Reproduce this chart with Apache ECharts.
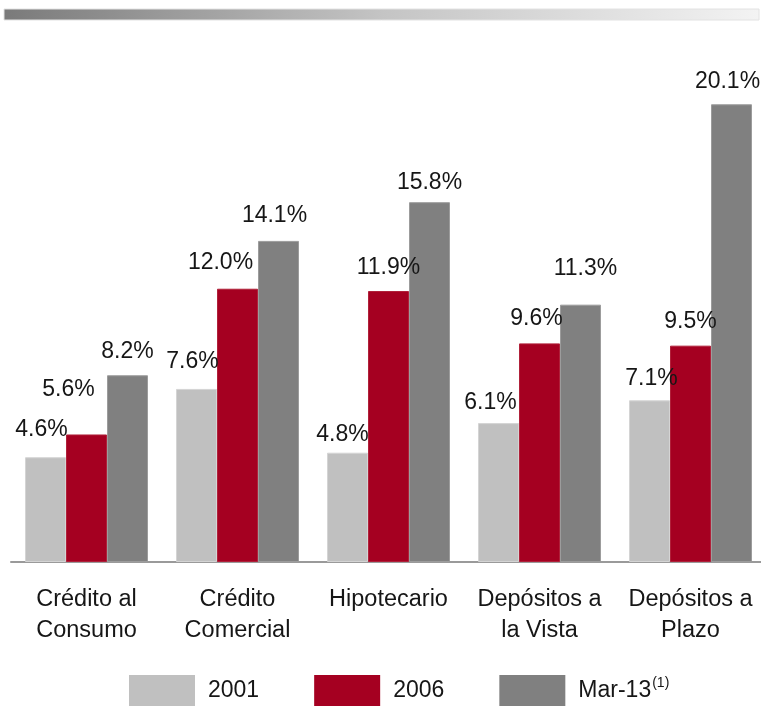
<!DOCTYPE html>
<html>
<head>
<meta charset="utf-8">
<script src="https://cdn.jsdelivr.net/npm/echarts@6/dist/echarts.min.js"></script>
<style>
  html, body { margin: 0; padding: 0; background: #ffffff; }
  #chart { width: 761px; height: 707px; }
</style>
</head>
<body>
<div id="chart"></div>
<script>
// Categories (two-line labels under the axis)
const categories = ['Crédito al\nConsumo', 'Crédito\nComercial', 'Hipotecario', 'Depósitos a\nla Vista', 'Depósitos a\nPlazo'];

// Series names and values (%)
const seriesNames = ['2001', '2006', 'Mar-13'];
const values2001 = [4.6, 7.6, 4.8, 6.1, 7.1];
const values2006 = [5.6, 12.0, 11.9, 9.6, 9.5];
const valuesMar13 = [8.2, 14.1, 15.8, 11.3, 20.1];

const seriesValues = [values2001, values2006, valuesMar13];
const seriesColors = ['#c0c0c0', '#a50021', '#808080'];
const seriesBorders = ['#d4d4d4', '#b0213a', '#9c9c9c'];

// Small label nudges [dx, dy] so the value labels sit as in the layout
const labelNudge = [
  [[-4, -4], [-4, -4], [-5, 5], [-8, 3], [2, 2]],
  [[-18, -21], [-17, -3], [0, 0], [-3, -1], [0, -1]],
  [[0, 0], [-4, -2], [0, 4], [5, -13], [-4, 1]]
];

const FONT = '"Liberation Sans", Arial, sans-serif';
const TEXT = '#161616';

const chart = echarts.init(document.getElementById('chart'), null, { renderer: 'canvas' });

const series = seriesNames.map((name, s) => ({
  name: name,
  type: 'bar',
  barWidth: 41,
  barGap: '0%',
  itemStyle: { color: seriesColors[s], borderColor: seriesBorders[s], borderWidth: 1 },
  label: {
    show: true,
    position: 'top',
    distance: 12,
    fontFamily: FONT,
    fontSize: 23,
    lineHeight: 23,
    color: TEXT,
    formatter: p => p.value.toFixed(1) + '%'
  },
  emphasis: { disabled: true },
  data: seriesValues[s].map((v, i) => ({ value: v, label: { offset: labelNudge[s][i] } }))
}));

chart.setOption({
  animation: false,
  backgroundColor: '#ffffff',
  graphic: [{
    type: 'rect',
    shape: { x: 4, y: 9, width: 755, height: 11 },
    style: {
      fill: new echarts.graphic.LinearGradient(0, 0, 1, 0, [
        { offset: 0, color: '#7a7a7a' },
        { offset: 0.5, color: '#c4c4c4' },
        { offset: 1, color: '#f3f3f3' }
      ]),
      stroke: '#e2e2e2',
      lineWidth: 1
    },
    silent: true
  }],
  grid: { left: 11, width: 755, top: 61, bottom: 145, outerBoundsMode: 'none', containLabel: false },
  xAxis: {
    type: 'category',
    data: categories,
    axisLine: { show: true, lineStyle: { color: '#9a9a9a', width: 2 } },
    axisTick: { show: false },
    axisLabel: {
      margin: 22,
      fontFamily: FONT,
      fontSize: 23.5,
      lineHeight: 31,
      color: TEXT,
      align: 'center',
      interval: 0
    }
  },
  yAxis: {
    type: 'value',
    min: 0,
    max: 22,
    show: false,
    splitLine: { show: false }
  },
  legend: {
    left: 129,
    top: 675,
    padding: 0,
    itemWidth: 66,
    itemHeight: 31,
    itemGap: 55,
    icon: 'rect',
    selectedMode: false,
    itemStyle: { borderWidth: 0 },
    formatter: name => name === 'Mar-13' ? 'Mar-13{sup|(1)}' : name,
    textStyle: {
      fontFamily: FONT,
      fontSize: 23,
      color: TEXT,
      padding: [0, 0, 0, 8],
      rich: {
        sup: { fontFamily: FONT, fontSize: 14, color: TEXT, verticalAlign: 'top', padding: [0, 0, 14, 1] }
      }
    },
    data: seriesNames
  },
  series: series
});
</script>
</body>
</html>
